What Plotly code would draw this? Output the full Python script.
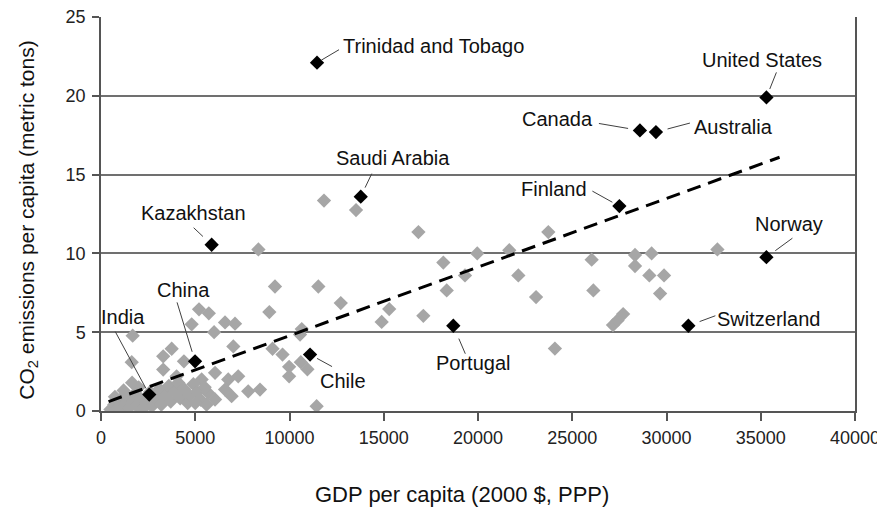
import math
import plotly.graph_objects as go

# ---------------- data ----------------
gray_x = [11830, 13530, 8350, 16840, 23730, 18160, 19960, 21660, 26030, 19310,
          22140, 18340, 26120, 23080, 17100, 15290, 14890, 24080, 27160, 27400,
          27700, 28330, 29210, 28330, 29090, 29870, 29660, 32700, 9230, 11530,
          8930, 12720, 10650, 10560, 6580, 7110, 7020, 5200, 5720, 4810,
          6000, 1680, 3750, 3300, 4400, 1630, 3300, 4010, 1650, 740,
          9100, 9630, 9980, 9980, 10600, 10950, 11440, 6750, 7280, 6050,
          5340, 5690, 6580, 7810, 8435, 6930, 6050,
          500, 700, 900, 1000, 1100, 1300, 1400, 1500, 1700, 1800,
          1900, 2100, 2200, 2400, 2600, 2700, 2900, 3100, 3200, 3400,
          3600, 3700, 3900, 4100, 4200, 4400, 4600, 4700, 4900, 5100,
          5300, 5500, 5000, 5600, 2000, 1200]
gray_y = [13.35, 12.75, 10.25, 11.35, 11.35, 9.42, 10.0, 10.2, 9.6, 8.6,
          8.6, 7.65, 7.65, 7.23, 6.04, 6.47, 5.65, 3.96, 5.45, 5.75,
          6.15, 9.9, 10.0, 9.2, 8.6, 8.6, 7.45, 10.25, 7.9, 7.9,
          6.28, 6.85, 5.2, 4.85, 5.62, 5.54, 4.1, 6.45, 6.2, 5.5,
          5.0, 4.78, 3.95, 3.47, 3.15, 3.1, 2.63, 2.2, 1.8, 0.9,
          3.95, 3.58, 2.8, 2.2, 3.1, 2.65, 0.3, 2.0, 2.2, 2.42,
          2.0, 1.15, 1.36, 1.25, 1.36, 0.94, 0.73,
          0.1, 0.4, 0.2, 0.7, 0.05, 0.5, 0.9, 0.2, 0.6, 1.1,
          0.3, 0.8, 0.1, 0.5, 1.2, 0.3, 0.8, 1.4, 0.4, 1.0,
          1.6, 0.6, 1.2, 1.8, 0.8, 1.4, 0.5, 1.0, 1.7, 1.2,
          0.7, 1.5, 0.5, 0.4, 1.5, 1.3]

country_names = ["Trinidad and Tobago", "United States", "Canada", "Australia",
                 "Saudi Arabia", "Finland", "Kazakhstan", "Norway",
                 "Switzerland", "Portugal", "Chile", "China", "India"]
country_x = [11460, 35300, 28590, 29440, 13780, 27500, 5870, 35300,
             31160, 18690, 11090, 4990, 2560]
country_y = [22.1, 19.9, 17.8, 17.7, 13.6, 13.0, 10.55, 9.76,
             5.41, 5.41, 3.58, 3.15, 1.04]

trend_x = [400, 36000]
trend_y = [0.6, 16.1]

x_ticks = [0, 5000, 10000, 15000, 20000, 25000, 30000, 35000, 40000]
y_ticks = [0, 5, 10, 15, 20, 25]

# ---------------- label placement (style, pixel offsets) ----------------
# name: (xanchor, xshift, yshift, leader_dx, leader_dy(down+), standoff)
label_style = {
    "Trinidad and Tobago": ("left", 24, 17, 22, -13, 5),
    "United States": ("center", -4, 37, 10, -25, 9),
    "Canada": ("right", -45, 11, -41, -7, 12),
    "Australia": ("left", 36, 5, 34, -9, 12),
    "Saudi Arabia": ("center", 32, 39, 11, -23, 10),
    "Finland": ("right", -30, 17, -27, -15, 8),
    "Kazakhstan": ("center", -18, 32, -18, -17, 12),
    "Norway": ("center", 23, 33, 26, -19, 11),
    "Switzerland": ("left", 27, 7, 27, -10, 12),
    "Portugal": ("center", 20, -37, 12, 28, 14),
    "Chile": ("left", 8, -26, 22, 12, 8),
    "China": ("center", -12, 71, -18, -59, 10),
    "India": ("center", -26, 78, -34, -63, 7),
}

FONT = "Liberation Sans, Arial, sans-serif"

fig = go.Figure()
fig.add_trace(go.Scatter(
    x=gray_x, y=gray_y, mode="markers",
    marker=dict(symbol="diamond", size=11, color="#a6a6a6", line=dict(width=0)),
    hoverinfo="skip", showlegend=False))
fig.add_trace(go.Scatter(
    x=trend_x, y=trend_y, mode="lines",
    line=dict(color="black", width=3, dash="14px,8px"),
    hoverinfo="skip", showlegend=False))
fig.add_trace(go.Scatter(
    x=country_x, y=country_y, mode="markers",
    marker=dict(symbol="diamond", size=11, color="black", line=dict(width=0)),
    text=country_names, showlegend=False))

annotations = []
shapes = []
for name, cx, cy in zip(country_names, country_x, country_y):
    xa, xs, ys, ldx, ldy, so = label_style[name]
    length = math.hypot(ldx, ldy)
    hx, hy = ldx / length * so, ldy / length * so
    # leader line: pixel-sized shape anchored at the data point
    shapes.append(dict(
        type="line", xref="x", yref="y",
        xsizemode="pixel", ysizemode="pixel", xanchor=cx, yanchor=cy,
        x0=hx, y0=-hy, x1=ldx, y1=-ldy,
        line=dict(color="#404040", width=1)))
    annotations.append(dict(
        x=cx, y=cy, xref="x", yref="y", text=name, showarrow=False,
        xanchor=xa, yanchor="middle", xshift=xs, yshift=ys,
        font=dict(family=FONT, size=20, color="#111111")))

annotations.append(dict(
    x=0.479, y=-0.211, xref="paper", yref="paper",
    text="GDP per capita (2000 $, PPP)", showarrow=False,
    xanchor="center", yanchor="middle",
    font=dict(family=FONT, size=22, color="#111111")))
annotations.append(dict(
    x=-0.097, y=0.485, xref="paper", yref="paper",
    text="CO<sub>2</sub> emissions per capita (metric tons)", showarrow=False,
    textangle=-90, xanchor="center", yanchor="middle",
    font=dict(family=FONT, size=21, color="#111111")))

fig.update_layout(
    width=877, height=508,
    margin=dict(l=93, r=30, t=8.5, b=104.5),
    paper_bgcolor="white", plot_bgcolor="white",
    font=dict(family=FONT, color="#111111"),
    annotations=annotations,
    shapes=shapes,
    showlegend=False,
)
fig.update_xaxes(
    range=[0, 40000], tickvals=x_ticks, ticktext=[str(v) for v in x_ticks],
    showgrid=False, zeroline=False, showline=True, linecolor="#555555",
    linewidth=1.5, ticks="outside", ticklen=8, tickcolor="#555555",
    tickwidth=1.5, ticklabelstandoff=2, ticklabeloverflow="allow",
    tickfont=dict(family=FONT, size=18, color="#222222"), automargin=False)
fig.update_yaxes(
    range=[0, 25], tickvals=y_ticks, ticktext=[str(v) for v in y_ticks],
    showgrid=True, gridcolor="#707070", gridwidth=1.5, zeroline=False,
    showline=True, mirror=True, linecolor="#555555", linewidth=1.5,
    ticks="outside", ticklen=7, tickcolor="#555555", tickwidth=1.5,
    ticklabelstandoff=3, ticklabeloverflow="allow",
    tickfont=dict(family=FONT, size=18, color="#222222"), automargin=False)

fig.write_html("out.html")
